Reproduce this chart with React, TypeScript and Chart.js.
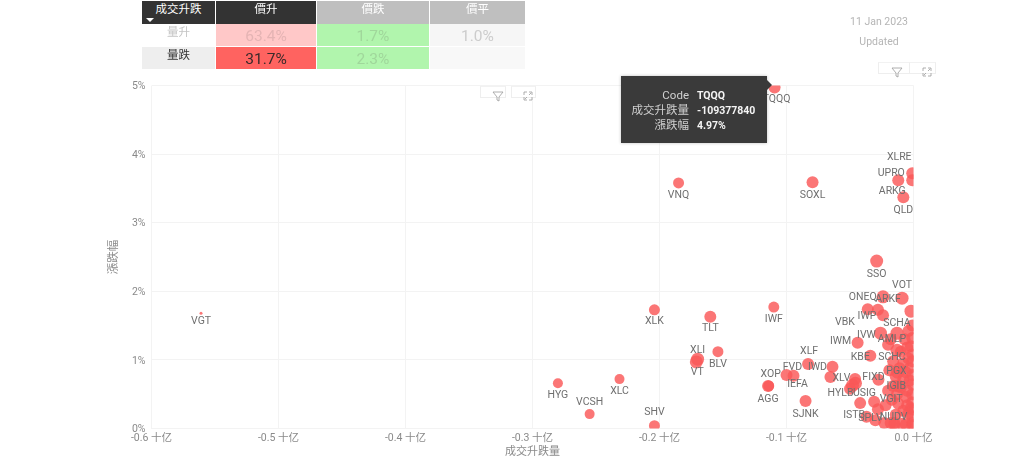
import React, { useEffect, useRef } from "react";
import { Chart, registerables } from "chart.js";

Chart.register(...registerables);

const LATIN = '"Roboto", "Noto Sans CJK TC", sans-serif';

// Labelled ETFs: code, flow (billions), change (%), bubble size
const codes = ["TQQQ","VNQ","SOXL","XLRE","UPRO","ARKG","QLD","SSO","VOT","ARKF","ONEQ","IWP","VBK","SCHA","IVW","AMLP","IWM","KBE","SCHC","XLF","FVD","IEFA","IWD","XOP","AGG","XLV","HYLB","USIG","FIXD","PGX","IGIB","VGIT","ISTB","SPLV","NUDV","XLK","TLT","IWF","XLI","VT","BLV","HYG","XLC","VCSH","SHV","SJNK","VGT"];
const flows = [-0.1094,-0.185,-0.0795,-0.001,-0.012,-0.001,-0.008,-0.029,-0.009,-0.024,-0.036,-0.024,-0.028,-0.002,-0.026,-0.013,-0.044,-0.034,-0.013,-0.083,-0.1,-0.0945,-0.0638,-0.114,-0.1145,-0.0654,-0.048,-0.0457,-0.0276,-0.0126,-0.012,-0.031,-0.042,-0.037,-0.018,-0.204,-0.16,-0.11,-0.17,-0.171,-0.154,-0.28,-0.2315,-0.255,-0.204,-0.085,-0.561];
const changes = [4.97,3.58,3.59,3.72,3.62,3.62,3.37,2.44,1.9,1.92,1.74,1.65,1.73,1.71,1.39,1.39,1.25,1.06,1.14,0.94,0.78,0.77,0.9,0.62,0.62,0.75,0.63,0.66,0.71,0.82,0.62,0.39,0.37,0.17,0.08,1.73,1.63,1.77,1.01,0.97,1.12,0.66,0.72,0.21,0.04,0.4,1.68];
const sizes = [6,5.5,6,6,6,6,6,6.5,6.5,6.5,6,6,6,6.5,6.5,6.5,6,6,6.5,6,6,6,6,5.5,6,6,6.5,6.5,6,6.5,6.5,6,6,6,6,5.5,6,5.5,6.5,6.5,5.5,5,5,5,5.5,6,1.5];

// Unlabelled ETFs forming the dense cluster by the right edge
const clusterFlows = [-0.001,-0.004,-0.001,-0.007,-0.002,-0.005,-0.001,-0.01,-0.004,-0.001,-0.008,-0.003,-0.016,-0.011,-0.006,-0.001,-0.019,-0.014,-0.008,-0.003,-0.001,-0.016,-0.01,-0.005,-0.001,-0.02,-0.013,-0.006,-0.001,-0.017,-0.012,-0.005,-0.001,-0.022,-0.014,-0.008,-0.002,-0.004,-0.001,-0.015,-0.009,-0.001,-0.023,-0.015,-0.006,-0.001,-0.046,-0.05,-0.028,-0.03,-0.018,-0.02];
const clusterChanges = [1.5,1.42,1.32,1.3,1.2,1.18,1.08,1.12,1.02,0.98,0.95,0.88,0.98,0.88,0.82,0.78,0.85,0.76,0.72,0.7,0.64,0.62,0.6,0.55,0.5,0.55,0.5,0.46,0.38,0.42,0.36,0.34,0.28,0.34,0.2,0.26,0.3,0.22,0.18,0.08,0.07,0.08,0.08,0.05,0.06,0.05,0.72,0.58,0.28,0.12,1.3,1.22];

const xTickLabelUnit = "十亿";
const xAxisTitle = "成交升跌量";
const yAxisTitle = "漲跌幅";

// Label nudges relative to each bubble
const labelNudges: Record<string, [number, number]> = {
  TQQQ:[2,12],VNQ:[0,12],SOXL:[0,13],XLRE:[-13,-16],UPRO:[-7,-7],ARKG:[-20,11],QLD:[0,13],SSO:[0,13],VOT:[0,-13],ARKF:[5,3],ONEQ:[-5,-12],VBK:[-33,13],IWP:[-16,1],SCHA:[-14,12],IVW:[-14,2],AMLP:[-5,6],IWM:[-17,-1],KBE:[-10,2],SCHC:[-5,7],XLF:[1,-13],FVD:[6,-8],IEFA:[4,9],IWD:[-15,1],XOP:[2,-12],AGG:[0,13],XLV:[11,1],HYLB:[-12,8],USIG:[9,10],FIXD:[-5,-2],PGX:[-1,-1],IGIB:[-2,0],VGIT:[17,-2],ISTB:[-6,12],SPLV:[4,2],NUDV:[3,-6],XLK:[0,12],TLT:[0,12],IWF:[0,12],XLI:[0,-9],VT:[1,10],BLV:[0,13],HYG:[0,12],XLC:[0,12],VCSH:[0,-12],SHV:[0,-13],SJNK:[0,13],VGT:[0,8],
};

const tableHead = ["成交升跌", "價升", "價跌", "價平"];
const tableRows = [
  ["量升", "63.4%", "1.7%", "1.0%"],
  ["量跌", "31.7%", "2.3%", ""],
];
const tooltipRows = [["Code", "TQQQ"], ["成交升跌量", "-109377840"], ["漲跌幅", "4.97%"]];
const updatedDate = "11 Jan 2023";
const updatedLabel = "Updated";

const codeLabels = {
  id: "codeLabels",
  afterDatasetsDraw(chart: any) {
    const { ctx } = chart;
    const meta = chart.getDatasetMeta(0);
    ctx.save();
    ctx.font = `10.5px ${LATIN}`;
    ctx.fillStyle = "#6f6f6f";
    ctx.textAlign = "center";
    ctx.textBaseline = "middle";
    codes.forEach((c, i) => {
      const el = meta.data[i];
      const [dx, dy] = labelNudges[c] || [0, 12];
      ctx.fillText(c, el.x + dx, el.y + dy);
    });
    ctx.restore();
  },
};

const Icon = ({ x, y, kind }: { x: number; y: number; kind: "filter" | "expand" }) => (
  <svg style={{ position: "absolute", left: x, top: y }} width="14" height="14" viewBox="0 0 14 14" fill="none" stroke="#9a9a9a" strokeWidth="0.8">
    {kind === "filter" ? (
      <path d="M2 3 H12 L8 8 V12 L6 11 V8 Z" />
    ) : (
      <path d="M3 6 V3 H6 M8 3 H11 V6 M11 8 V11 H8 M6 11 H3 V8 M4 10 L6 8 M8 6 L10 4" />
    )}
  </svg>
);

const Box = ({ x, y, w, h }: { x: number; y: number; w: number; h: number }) => (
  <div style={{ position: "absolute", left: x, top: y, width: w, height: h, border: "1px solid #eeeeee", borderTop: "1px solid #f2f2f2", boxSizing: "border-box", background: "#fff" }} />
);

const cellStyle = (x: number, y: number, w: number, h: number, bg: string, color: string, size: number): React.CSSProperties => ({
  position: "absolute", left: x, top: y, width: w, height: h, background: bg, color, fontSize: size,
  display: "flex", alignItems: "center", justifyContent: "center", lineHeight: 1, fontFamily: LATIN,
});

export default function App() {
  const ref = useRef<HTMLCanvasElement>(null);
  useEffect(() => {
    const allX = [...flows, ...clusterFlows];
    const allY = [...changes, ...clusterChanges];
    const chart = new Chart(ref.current!, {
      type: "bubble",
      data: {
        datasets: [{
          data: allX.map((x, i) => ({ x, y: allY[i], r: i < sizes.length ? sizes[i] : 6 })),
          backgroundColor: "rgba(250,88,88,0.82)",
          borderWidth: 0,
        }],
      },
      options: {
        animation: false,
        responsive: false,
        layout: { padding: { left: 107, right: 110.5, top: 85.5, bottom: 11.5 } },
        plugins: { legend: { display: false }, tooltip: { enabled: false } },
        scales: {
          x: {
            type: "linear", min: -0.6, max: 0,
            afterFit: (s: any) => { s.height = 30; },
            grid: { color: "#f3f3f3", drawTicks: false },
            border: { display: false },
            ticks: {
              stepSize: 0.1, padding: 4, maxRotation: 0, color: "#8a8a8a",
              font: { size: 10.5, family: LATIN },
              callback: (v: any) => `${Number(v).toFixed(1)} ${xTickLabelUnit}`,
            },
            title: { display: true, text: xAxisTitle, color: "#8a8a8a", font: { size: 11, family: LATIN }, padding: { top: 4, bottom: 0 } },
          },
          y: {
            type: "linear", min: 0, max: 5,
            afterFit: (s: any) => { s.width = 44.5; },
            grid: { color: "#f3f3f3", drawTicks: false },
            border: { display: false },
            ticks: {
              stepSize: 1, padding: 6, color: "#8a8a8a", labelOffset: 1,
              font: { size: 10.5, family: LATIN },
              callback: (v: any) => `${v}%`,
            },
            title: { display: true, text: yAxisTitle, color: "#8a8a8a", font: { size: 11.5, family: LATIN }, padding: 0 },
          },
        },
      },
      plugins: [codeLabels],
    } as any);
    return () => chart.destroy();
  }, []);

  const colX = [142, 216, 317, 430];
  const colW = [73, 100, 112, 95];
  const rowBg = [
    ["#ffffff", "#ffc8c8", "#b1f5ad", "#f6f6f6"],
    ["#eeeeee", "#ff6360", "#b1f5ad", "#f8f8f8"],
  ];
  const rowFg = [
    ["#c4c4c4", "#e5b4b4", "#a0d79b", "#cccccc"],
    ["#333333", "#3a2a2a", "#a0d79b", "#cccccc"],
  ];

  return (
    <div style={{ position: "fixed", left: 0, top: 0, width: 1024, height: 456, overflow: "hidden", background: "#fff", fontFamily: LATIN }}>
      <canvas ref={ref} width={1024} height={470} style={{ position: "absolute", left: 0, top: 0, width: 1024, height: 470 }} />

      {tableHead.map((t, i) => (
        <div key={t} style={{ ...cellStyle(colX[i], 1, colW[i], 23, i < 2 ? "#333333" : "#bfbfbf", "#ffffff", 11.5), alignItems: "flex-start", paddingTop: 3, boxSizing: "border-box" }}>{t}</div>
      ))}
      <div style={{ position: "absolute", left: 146, top: 18, width: 0, height: 0, borderLeft: "4px solid transparent", borderRight: "4px solid transparent", borderTop: "4px solid #fff" }} />
      {tableRows.map((row, r) =>
        row.map((t, c) => (
          <div key={`${r}-${c}`} style={{ ...cellStyle(colX[c], 24 + r * 23, colW[c], 22, rowBg[r][c], rowFg[r][c], c === 0 ? 11.5 : 15.5), alignItems: c === 0 ? "flex-start" : "center", paddingTop: c === 0 ? 3 : 3, boxSizing: "border-box" }}>{t}</div>
        ))
      )}

      <div style={{ position: "absolute", left: 819, width: 120, top: 15, textAlign: "center", fontSize: 10.5, color: "#b5b5b5", lineHeight: "13px" }}>{updatedDate}</div>
      <div style={{ position: "absolute", left: 819, width: 120, top: 35, textAlign: "center", fontSize: 10.5, color: "#b5b5b5", lineHeight: "13px" }}>{updatedLabel}</div>

      <Box x={878} y={62} w={38} h={12} />
      <Box x={909} y={62} w={27} h={12} />
      <Icon x={890} y={65} kind="filter" />
      <Icon x={920} y={65} kind="expand" />
      <Box x={480} y={86} w={26} h={12} />
      <Box x={511} y={86} w={25} h={12} />
      <Icon x={491} y={89} kind="filter" />
      <Icon x={521} y={89} kind="expand" />

      <div style={{ position: "absolute", left: 621, top: 76, width: 146, height: 67, background: "#3a3a3a", boxShadow: "0 0 3px rgba(0,0,0,0.25)" }}>
        {tooltipRows.map(([k, v], i) => (
          <div key={k} style={{ position: "absolute", top: 12 + i * 15, left: 0, width: 146, height: 15, lineHeight: "15px" }}>
            <span style={{ position: "absolute", right: 78, color: "#d0d0d0", whiteSpace: "nowrap", fontSize: 11.5 }}>{k}</span>
            <span style={{ position: "absolute", left: 76, color: "#f4f4f4", fontWeight: 700, whiteSpace: "nowrap", fontSize: 10.5 }}>{v}</span>
          </div>
        ))}
      </div>
      <div style={{ position: "absolute", left: 767, top: 80, width: 0, height: 0, borderTop: "5px solid transparent", borderBottom: "5px solid transparent", borderLeft: "5px solid #3a3a3a" }} />
    </div>
  );
}
